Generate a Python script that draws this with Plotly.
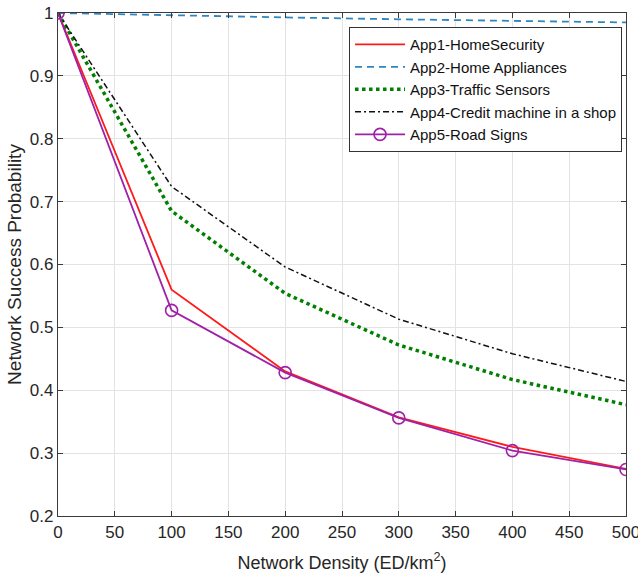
import plotly.graph_objects as go

# Network density (ED/km^2)
density = [0, 100, 200, 300, 400, 500]

# Network success probability per application
app1_home_security = [1.0, 0.560, 0.430, 0.357, 0.310, 0.275]
app2_home_appliances = [1.0, 0.996, 0.993, 0.990, 0.987, 0.985]
app3_traffic_sensors = [1.0, 0.685, 0.554, 0.472, 0.417, 0.377]
app4_credit_machine = [1.0, 0.724, 0.596, 0.513, 0.458, 0.414]
app5_road_signs = [1.0, 0.527, 0.428, 0.356, 0.304, 0.274]

x_ticks = [0, 50, 100, 150, 200, 250, 300, 350, 400, 450, 500]
y_ticks = [0.2, 0.3, 0.4, 0.5, 0.6, 0.7, 0.8, 0.9, 1.0]
y_tick_text = ["0.2", "0.3", "0.4", "0.5", "0.6", "0.7", "0.8", "0.9", "1"]

FONT = "Liberation Sans, Arial, sans-serif"
AXIS_COLOR = "#3a3a3a"

fig = go.Figure()

fig.add_trace(go.Scatter(
    x=density, y=app1_home_security, mode="lines",
    name="App1-HomeSecurity",
    line=dict(color="#ff1a1a", width=1.8),
))
fig.add_trace(go.Scatter(
    x=density, y=app2_home_appliances, mode="lines",
    name="App2-Home Appliances",
    line=dict(color="#2e86c1", width=1.8, dash="7px,5px"),
))
fig.add_trace(go.Scatter(
    x=density, y=app3_traffic_sensors, mode="lines",
    name="App3-Traffic Sensors",
    line=dict(color="#008000", width=3.5, dash="3.5px,3.5px"),
))
fig.add_trace(go.Scatter(
    x=density, y=app4_credit_machine, mode="lines",
    name="App4-Credit machine in a shop",
    line=dict(color="#111111", width=1.5, dash="6px,3px,2px,3px"),
))
fig.add_trace(go.Scatter(
    x=density, y=app5_road_signs, mode="lines+markers",
    name="App5-Road Signs",
    line=dict(color="#a020a8", width=1.8),
    marker=dict(symbol="circle-open", size=12,
                color="#a020a8", line=dict(width=1.6, color="#a020a8")),
))

axis_common = dict(
    showline=True, linecolor=AXIS_COLOR, linewidth=1.2, mirror="ticks",
    ticks="inside", ticklen=5, tickcolor=AXIS_COLOR, tickwidth=1,
    showgrid=True, gridcolor="#e3e3e3", gridwidth=1,
    zeroline=False, automargin=False, ticklabeloverflow="allow",
    tickfont=dict(family=FONT, size=17, color="#262626"),
)

fig.update_xaxes(
    range=[0, 500], tickvals=x_ticks,
    title=dict(text="Network Density (ED/km<sup>2</sup>)",
               font=dict(family=FONT, size=18, color="#262626")),
    **axis_common,
)
fig.update_yaxes(
    range=[0.2, 1.0], tickvals=y_ticks, ticktext=y_tick_text,
    title=dict(text="Network Success Probability", standoff=3,
               font=dict(family=FONT, size=19, color="#262626")),
    **axis_common,
)

fig.update_layout(
    width=638, height=574,
    margin=dict(l=58, r=12, t=13, b=58),
    paper_bgcolor="white", plot_bgcolor="white",
    font=dict(family=FONT, size=15, color="#111111"),
    legend=dict(
        x=0.993, y=0.972, xanchor="right", yanchor="top",
        bgcolor="white", bordercolor="#333333", borderwidth=1,
        font=dict(family=FONT, size=15, color="#111111"),
        tracegroupgap=0, itemwidth=50,
    ),
    showlegend=True,
)

fig.write_html("out.html")
